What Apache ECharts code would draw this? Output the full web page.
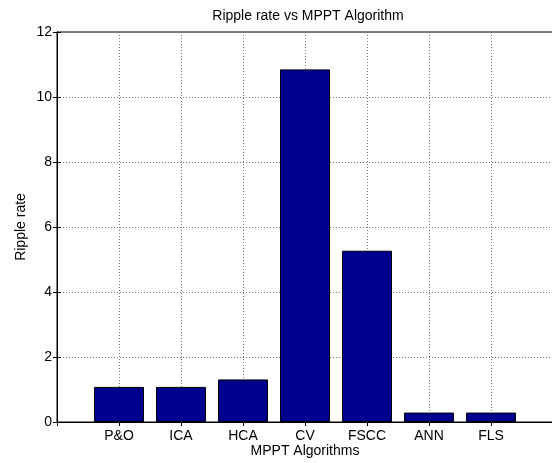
<!DOCTYPE html>
<html>
<head>
<meta charset="utf-8">
<script src="https://cdn.jsdelivr.net/npm/echarts@6/dist/echarts.min.js"></script>
<style>
  html, body { margin: 0; padding: 0; background: #fff; }
  #chart { width: 552px; height: 463px; }
</style>
</head>
<body>
<div id="chart"></div>
<script>
// MPPT algorithms and their measured ripple rate
const categories = ['P&O', 'ICA', 'HCA', 'CV', 'FSCC', 'ANN', 'FLS'];
const rippleRate = [1.08, 1.08, 1.31, 10.85, 5.27, 0.29, 0.29];
const yTicks = [0, 2, 4, 6, 8, 10, 12];

// Bars sit at positions 1..7 on a 0..8 axis
const barData = rippleRate.map((v, i) => [i + 1, v]);

const FONT = 'Liberation Sans, Arial, sans-serif';
const FS = 14;
const gridLine = { show: true, lineStyle: { color: '#777', type: [1, 2], width: 1 } };

const chart = echarts.init(document.getElementById('chart'), null, { renderer: 'canvas' });
chart.setOption({
  animation: false,
  backgroundColor: '#fff',
  title: {
    text: 'Ripple rate vs MPPT Algorithm',
    left: 303,
    textAlign: 'center',
    top: 4,
    textStyle: { fontFamily: FONT, fontSize: FS, fontWeight: 'normal', color: '#000' }
  },
  grid: {
    left: 57, width: 496, top: 32, bottom: 41,
    outerBoundsMode: 'none',
    containLabel: false,
    show: true, borderColor: '#000', borderWidth: 1, backgroundColor: '#fff'
  },
  xAxis: [{
    type: 'value',
    min: 0, max: 8, interval: 1,
    name: 'MPPT Algorithms',
    nameLocation: 'middle',
    nameMoveOverlap: false,
    nameGap: 22,
    nameTextStyle: { fontFamily: FONT, fontSize: FS, color: '#000' },
    axisLine: { show: true, onZero: false, lineStyle: { color: '#000', width: 1 } },
    axisTick: { show: true, inside: true, length: 4, lineStyle: { color: '#000' } },
    axisLabel: {
      fontFamily: FONT, fontSize: FS, color: '#000', margin: 7,
      formatter: v => (v >= 1 && v <= categories.length) ? categories[v - 1] : ''
    },
    splitLine: gridLine
  }, {
    type: 'value',
    position: 'top',
    min: 0, max: 8, interval: 1,
    axisLine: { show: true, lineStyle: { color: '#000', width: 1 } },
    axisTick: { show: true, inside: true, length: 4, lineStyle: { color: '#000' } },
    axisLabel: { show: false },
    splitLine: { show: false }
  }],
  yAxis: [{
    type: 'value',
    min: yTicks[0], max: yTicks[yTicks.length - 1], interval: 2,
    name: 'Ripple rate',
    nameLocation: 'middle',
    nameMoveOverlap: false,
    nameGap: 29,
    nameTextStyle: { fontFamily: FONT, fontSize: FS, color: '#000' },
    axisLine: { show: true, lineStyle: { color: '#000', width: 1 } },
    axisTick: { show: true, inside: true, length: 4, lineStyle: { color: '#000' } },
    axisLabel: { fontFamily: FONT, fontSize: FS, color: '#000', margin: 5 },
    splitLine: gridLine
  }, {
    type: 'value',
    position: 'right',
    min: yTicks[0], max: yTicks[yTicks.length - 1], interval: 2,
    axisLine: { show: true, lineStyle: { color: '#000', width: 1 } },
    axisTick: { show: true, inside: true, length: 4, lineStyle: { color: '#000' } },
    axisLabel: { show: false },
    splitLine: { show: false }
  }],
  series: [{
    type: 'bar',
    xAxisIndex: 0,
    yAxisIndex: 0,
    data: barData,
    barWidth: 50,
    itemStyle: { color: '#00008F', borderColor: '#000', borderWidth: 1 },
    z: 3
  }]
});
</script>
</body>
</html>
